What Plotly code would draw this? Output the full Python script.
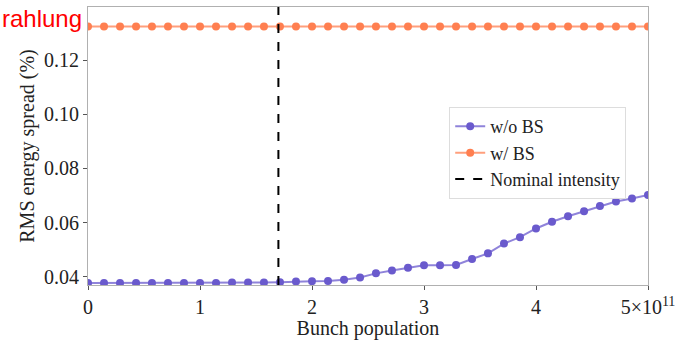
import plotly.graph_objects as go

# Bunch population (units of 1e11)
bunch_pop = [0.0, 0.143, 0.286, 0.429, 0.571, 0.714, 0.857, 1.0, 1.143, 1.286,
             1.429, 1.571, 1.714, 1.857, 2.0, 2.143, 2.286, 2.429, 2.571, 2.714,
             2.857, 3.0, 3.143, 3.286, 3.429, 3.571, 3.714, 3.857, 4.0, 4.143,
             4.286, 4.429, 4.571, 4.714, 4.857, 5.0]

# RMS energy spread (%) without beamstrahlung
spread_wo_bs = [0.0376, 0.0376, 0.0376, 0.0376, 0.0376, 0.0376, 0.0376, 0.0376, 0.0376, 0.0378,
                0.0378, 0.0378, 0.0379, 0.0382, 0.0383, 0.0384, 0.0388, 0.0397, 0.0412, 0.0423,
                0.0433, 0.0442, 0.0442, 0.0443, 0.0465, 0.0486, 0.0522, 0.0546, 0.0578, 0.0603,
                0.0623, 0.0642, 0.0661, 0.0678, 0.0689, 0.0702]

# RMS energy spread (%) with beamstrahlung
spread_w_bs = [0.1325, 0.1325, 0.1325, 0.1325, 0.1325, 0.1325, 0.1325, 0.1325, 0.1325, 0.1325,
               0.1325, 0.1325, 0.1325, 0.1325, 0.1325, 0.1325, 0.1325, 0.1325, 0.1325, 0.1325,
               0.1325, 0.1325, 0.1325, 0.1325, 0.1325, 0.1325, 0.1325, 0.1325, 0.1325, 0.1325,
               0.1325, 0.1325, 0.1325, 0.1325, 0.1325, 0.1325]

nominal_intensity = 1.7

x_tickvals = [0, 1, 2, 3, 4, 5]
x_ticktext = ["0", "1", "2", "3", "4", "5×10<sup>11</sup>"]
y_tickvals = [0.04, 0.06, 0.08, 0.10, 0.12]
y_ticktext = ["0.04", "0.06", "0.08", "0.10", "0.12"]

FONT = "Liberation Serif"
BLUE = "#6a5acd"
CORAL = "#ff7f50"

fig = go.Figure()
fig.add_trace(go.Scatter(
    x=bunch_pop, y=spread_wo_bs, mode="lines+markers", name="w/o BS",
    line=dict(color="rgba(106,90,205,0.75)", width=2),
    marker=dict(color=BLUE, size=8),
))
fig.add_trace(go.Scatter(
    x=bunch_pop, y=spread_w_bs, mode="lines+markers", name="w/ BS",
    line=dict(color="rgba(255,127,80,0.75)", width=2),
    marker=dict(color=CORAL, size=8),
))
fig.add_trace(go.Scatter(
    x=[None], y=[None], mode="lines", name="Nominal intensity",
    line=dict(color="black", width=2, dash="dash"),
))
fig.add_vline(x=nominal_intensity, line=dict(color="black", width=2, dash="dash"))

fig.add_annotation(
    text="rahlung", xref="paper", yref="paper",
    x=-0.1566, y=1.015, xanchor="left", yanchor="top", showarrow=False,
    font=dict(family="Liberation Sans", size=24, color="#ff0000"),
)

fig.update_layout(
    width=681, height=340,
    margin=dict(l=88, r=31, t=6, b=49),
    plot_bgcolor="white", paper_bgcolor="white",
    font=dict(family=FONT, size=20, color="#222222"),
    showlegend=True,
    legend=dict(
        x=0.645, y=0.64, xanchor="left", yanchor="top",
        bgcolor="rgba(255,255,255,0.9)", bordercolor="#dddddd", borderwidth=1,
        font=dict(family=FONT, size=18, color="#222222"),
        tracegroupgap=0, itemwidth=30,
    ),
    xaxis=dict(
        range=[0, 5], tickvals=x_tickvals, ticktext=x_ticktext,
        showgrid=False, zeroline=False, showline=True, mirror=True,
        linecolor="#b0b0b0", linewidth=1, ticks="outside", ticklen=4,
        tickcolor="#555555", tickfont=dict(size=20),
        title=dict(text="Bunch population", standoff=2, font=dict(size=20)),
    ),
    yaxis=dict(
        range=[0.0369, 0.1397], tickvals=y_tickvals, ticktext=y_ticktext,
        showgrid=False, zeroline=False, showline=True, mirror=True,
        linecolor="#b0b0b0", linewidth=1, ticks="outside", ticklen=4,
        tickcolor="#555555", tickfont=dict(size=20),
        title=dict(text="RMS energy spread (%)", standoff=4, font=dict(size=20)),
    ),
)

fig.write_html("out.html")
